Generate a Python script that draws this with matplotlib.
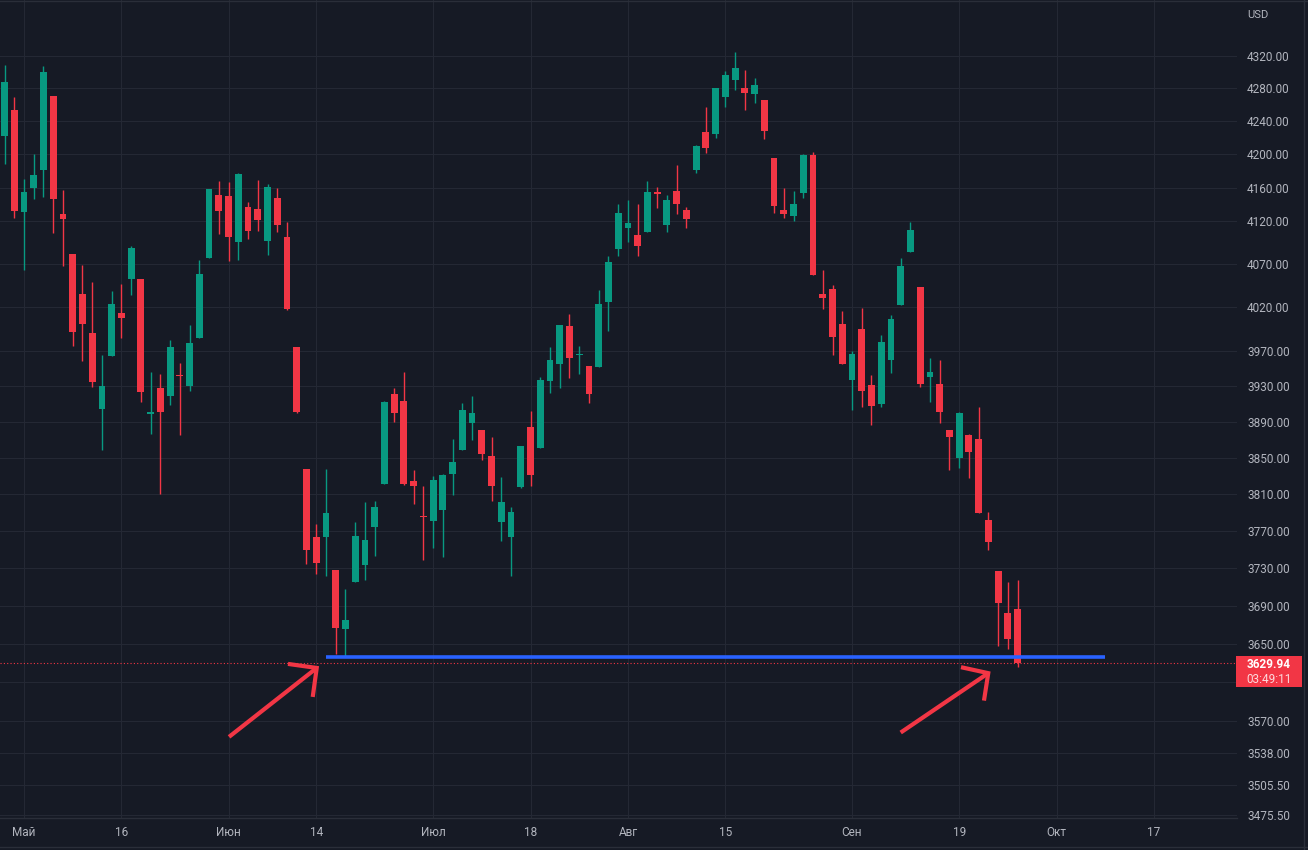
import numpy as np
import matplotlib
matplotlib.use("Agg")
import matplotlib.pyplot as plt
from matplotlib.ticker import NullLocator, NullFormatter
from matplotlib.patches import Rectangle
from matplotlib.lines import Line2D
from matplotlib.transforms import IdentityTransform

plt.rcParams['font.family'] = ['Roboto', 'DejaVu Sans']

# S&P 500 daily candles, 28 Apr - 27 Sep 2022
dates = (
    ['2022-04-28', '2022-04-29']
    + ['2022-05-%02d' % d for d in [2, 3, 4, 5, 6, 9, 10, 11, 12, 13, 16, 17, 18, 19, 20, 23, 24, 25, 26, 27, 31]]
    + ['2022-06-%02d' % d for d in [1, 2, 3, 6, 7, 8, 9, 10, 13, 14, 15, 16, 17, 21, 22, 23, 24, 27, 28, 29, 30]]
    + ['2022-07-%02d' % d for d in [1, 5, 6, 7, 8, 11, 12, 13, 14, 15, 18, 19, 20, 21, 22, 25, 26, 27, 28, 29]]
    + ['2022-08-%02d' % d for d in [1, 2, 3, 4, 5, 8, 9, 10, 11, 12, 15, 16, 17, 18, 19, 22, 23, 24, 25, 26, 29, 30, 31]]
    + ['2022-09-%02d' % d for d in [1, 2, 6, 7, 8, 9, 12, 13, 14, 15, 16, 19, 20, 21, 22, 23, 26, 27]]
)
holidays = ['2022-05-30', '2022-06-20', '2022-07-04', '2022-09-05']

opens = [4222.58, 4253.75,
         4130.61, 4159.78, 4181.18, 4270.43, 4128.17, 4081.27, 4035.18, 3990.08, 3903.95, 3963.90, 4013.02,
         4052.00, 4051.98, 3899.00, 3927.76, 3919.42, 3942.94, 3929.59, 3984.60, 4077.43, 4151.09,
         4149.78, 4095.41, 4137.57, 4134.72, 4096.47, 4147.12, 4101.65, 3974.39, 3838.15, 3763.52, 3764.05,
         3728.18, 3665.90, 3715.31, 3733.89, 3774.71, 3821.75, 3920.76, 3913.00, 3825.09, 3785.99,
         3781.00, 3792.61, 3831.98, 3858.85, 3888.26, 3880.94, 3851.95, 3779.67, 3763.99, 3818.00,
         3883.79, 3860.73, 3935.32, 3955.47, 3998.43, 3965.72, 3953.22, 3951.43, 4026.13, 4087.33,
         4112.38, 4104.21, 4107.96, 4154.85, 4115.87, 4155.93, 4133.11, 4181.02, 4227.40, 4225.02, 4269.37,
         4290.46, 4280.40, 4273.13, 4266.31, 4195.08, 4133.09, 4126.55, 4153.26, 4198.74, 4034.58, 4041.25, 4000.67,
         3936.73, 3994.66, 3930.89, 3909.43, 3959.94, 4022.94, 4083.67, 4042.83, 3940.73, 3932.41, 3880.95,
         3849.91, 3875.23, 3871.40, 3782.36, 3727.14, 3682.72, 3686.44]
highs = [4308.45, 4269.68,
         4169.81, 4200.10, 4307.66, 4270.43, 4157.69, 4081.27, 4068.82, 4049.09, 3964.80, 4038.88, 4046.46,
         4090.72, 4051.98, 3945.96, 3943.42, 3981.88, 3955.68, 3999.33, 4075.14, 4158.49, 4168.34,
         4166.54, 4177.51, 4142.67, 4168.78, 4164.86, 4160.14, 4119.10, 3974.39, 3838.15, 3778.18, 3837.56,
         3728.18, 3707.71, 3779.65, 3801.79, 3802.58, 3913.65, 3927.72, 3945.86, 3836.50, 3818.99,
         3829.82, 3832.19, 3870.91, 3910.63, 3918.50, 3880.94, 3873.41, 3829.44, 3796.41, 3863.62,
         3902.44, 3939.81, 3974.13, 3999.29, 4012.44, 3975.30, 3953.22, 4039.56, 4078.95, 4140.15,
         4144.95, 4140.47, 4167.66, 4161.29, 4151.58, 4186.62, 4137.30, 4211.03, 4257.91, 4280.47, 4301.79,
         4325.28, 4302.18, 4292.53, 4266.31, 4195.08, 4159.77, 4156.56, 4200.54, 4203.04, 4062.99, 4044.98, 4015.37,
         3970.23, 4018.43, 3942.55, 3987.89, 4010.50, 4076.81, 4119.28, 4042.83, 3961.94, 3959.14, 3880.95,
         3900.45, 3876.01, 3907.07, 3790.85, 3727.14, 3715.67, 3717.53]
lows = [4188.63, 4124.28,
        4062.51, 4147.08, 4148.91, 4106.01, 4067.91, 3975.48, 3958.17, 3928.82, 3858.87, 3963.90, 3983.99,
        4033.93, 3911.91, 3876.58, 3810.32, 3909.04, 3875.13, 3925.03, 3984.60, 4077.43, 4104.88,
        4073.85, 4074.37, 4098.67, 4109.18, 4080.19, 4107.20, 4017.17, 3900.16, 3734.30, 3724.12, 3722.30,
        3639.77, 3636.87, 3715.31, 3717.69, 3743.52, 3821.75, 3889.66, 3820.14, 3799.02, 3738.67,
        3752.10, 3742.06, 3809.37, 3858.85, 3869.34, 3847.22, 3802.36, 3759.07, 3721.56, 3817.18,
        3818.63, 3860.73, 3922.03, 3927.64, 3938.85, 3943.46, 3910.74, 3951.43, 3992.97, 4079.22,
        4096.02, 4079.81, 4107.96, 4135.42, 4107.31, 4128.97, 4112.09, 4177.26, 4201.41, 4219.78, 4256.90,
        4277.77, 4253.08, 4261.98, 4218.70, 4129.86, 4124.03, 4119.97, 4147.59, 4057.66, 4017.42, 3965.21, 3954.53,
        3903.65, 3906.21, 3886.75, 3906.03, 3944.81, 4022.94, 4083.67, 3928.79, 3912.48, 3888.28, 3837.08,
        3838.50, 3827.54, 3789.49, 3749.45, 3647.47, 3644.76, 3626.00]
closes = [4287.50, 4131.93,
          4155.38, 4175.48, 4300.17, 4146.87, 4123.34, 3991.24, 4001.05, 3935.18, 3930.08, 4023.89, 4008.01,
          4088.85, 3923.68, 3900.79, 3901.36, 3973.75, 3941.48, 3978.73, 4057.84, 4158.24, 4132.15,
          4101.23, 4176.82, 4108.54, 4121.43, 4160.68, 4115.77, 4017.82, 3900.86, 3749.63, 3735.48, 3789.99,
          3666.77, 3674.84, 3764.79, 3759.89, 3795.73, 3911.74, 3900.11, 3821.55, 3818.83, 3785.38,
          3825.33, 3831.39, 3845.08, 3902.62, 3899.38, 3854.43, 3818.80, 3801.78, 3790.38, 3863.16,
          3830.85, 3936.69, 3959.90, 3998.95, 3961.63, 3966.84, 3921.05, 4023.61, 4072.43, 4130.29,
          4118.63, 4091.19, 4155.17, 4151.94, 4145.19, 4140.06, 4122.47, 4210.24, 4207.27, 4280.15, 4297.14,
          4305.20, 4274.04, 4283.74, 4228.48, 4137.99, 4128.73, 4140.77, 4199.12, 4057.66, 4030.61, 3986.16, 3955.00,
          3966.85, 3924.26, 3908.19, 3979.87, 4006.18, 4067.36, 4110.41, 3932.69, 3946.01, 3901.35, 3873.33,
          3899.89, 3855.93, 3789.93, 3757.99, 3693.23, 3655.04, 3629.94]

tick_dates = ['2022-05-02', '2022-05-16', '2022-06-01', '2022-06-14', '2022-07-01', '2022-07-18',
              '2022-08-01', '2022-08-15', '2022-09-01', '2022-09-19', '2022-10-03', '2022-10-17']
tick_labels = ['Май', '16', 'Июн', '14', 'Июл', '18', 'Авг', '15', 'Сен', '19', 'Окт', '17']
price_ticks = [4320, 4280, 4240, 4200, 4160, 4120, 4070, 4020, 3970, 3930, 3890, 3850, 3810,
               3770, 3730, 3690, 3650, 3610, 3570, 3538, 3505.5, 3475.5]
hidden_tick = 3610  # covered by the last-price label

# support line drawn on the chart (June low)
support_level = 3636.87
support_from, support_to = '2022-06-15', '2022-10-10'
# hand drawn arrows: (bar index, price) for tail, tip, and the two head ends
arrow1 = [(21.05, 3554.1), (30.05, 3625.0), (27.1, 3629.2), (29.64, 3595.0)]
arrow2 = [(90.0, 3558.5), (98.99, 3619.6), (96.19, 3625.8), (98.55, 3591.2)]
countdown = '03:49:11'

BG = '#161a25'
GRID = '#242834'
TXT = '#b2b5be'
GREEN = '#089981'
RED = '#f23645'
BLUE = '#2962ff'

opens = np.array(opens)
highs = np.array(highs)
lows = np.array(lows)
closes = np.array(closes)
x = np.busday_count('2022-05-02', np.array(dates, dtype='datetime64[D]'), holidays=holidays)
xt = np.busday_count('2022-05-02', np.array(tick_dates, dtype='datetime64[D]'), holidays=holidays)

fig = plt.figure(figsize=(13.08, 8.5), dpi=100, facecolor=BG)
ax = fig.add_axes([0, 32 / 850, 1237 / 1308, 818 / 850])
ax.set_facecolor(BG)

up = closes >= opens
colors = np.where(up, GREEN, RED)
ax.vlines(x, lows, highs, colors=colors, lw=1.0, zorder=2)
ax.bar(x, np.abs(closes - opens), bottom=np.minimum(opens, closes), width=0.7,
       color=colors, edgecolor='none', zorder=2.1)

# support line
s0, s1 = np.busday_count('2022-05-02', [support_from, support_to], holidays=holidays)
ax.hlines(support_level, s0, s1, color=BLUE, lw=2.6, zorder=3)

# last price line
last = closes[-1]
ax.axhline(last, color=RED, lw=0.8, ls=(0, (1, 2)), zorder=1.5)

for arr in (arrow1, arrow2):
    (tx, ty), (px, py), (h1x, h1y), (h2x, h2y) = arr
    ax.plot([tx, px], [ty, py], color=RED, lw=3.0, solid_capstyle='butt', zorder=4)
    ax.plot([h1x, px, h2x], [h1y, py, h2y], color=RED, lw=3.0, solid_capstyle='butt',
            solid_joinstyle='miter', zorder=4)

ax.set_yscale('log')
ax.set_xlim(-24 / 9.741, 1213 / 9.741)
ax.set_ylim(3472.4, 4389.9)
ax.yaxis.set_minor_locator(NullLocator())
ax.yaxis.set_minor_formatter(NullFormatter())
ax.set_yticks(price_ticks, ['' if v == hidden_tick else '%.2f' % v for v in price_ticks])
ax.yaxis.tick_right()
ax.set_xticks(xt, tick_labels)
ax.tick_params(axis='y', length=0, pad=7.2, labelsize=8.5, labelcolor=TXT)
ax.tick_params(axis='x', length=0, pad=6.0, labelsize=8.5, labelcolor=TXT)
ax.grid(True, color=GRID, lw=0.8)
ax.set_axisbelow(True)
for side in ['top', 'right', 'left']:
    ax.spines[side].set_visible(False)
ax.spines['bottom'].set_color('#2a2e39')
ax.spines['bottom'].set_linewidth(1.0)

# price label box on the scale
fig.canvas.draw()
py_pix = ax.transData.transform((0, last))[1]
fig.add_artist(Rectangle((1236, py_pix - 23.7), 66, 31, facecolor=RED, edgecolor='none',
                         transform=IdentityTransform(), zorder=5))
fig.text(1269, py_pix - 1.7, '%.2f' % last, transform=IdentityTransform(), color='white',
         fontsize=8.5, fontweight='bold', ha='center', va='center', zorder=6)
fig.text(1269, py_pix - 16.7, countdown, transform=IdentityTransform(), color='#fcd9dc',
         fontsize=8.5, ha='center', va='center', zorder=6)
fig.text(1247 / 1308, 1 - 15 / 850, 'USD', color=TXT, fontsize=8, ha='left', va='center')

# thin panel borders
fig.add_artist(Line2D([1303.5, 1303.5], [0, 850], color='#2a2e39', lw=1, transform=IdentityTransform()))
fig.add_artist(Line2D([0, 1308], [849, 849], color='#2a2e39', lw=1, transform=IdentityTransform()))
fig.add_artist(Line2D([0, 1308], [3.5, 3.5], color='#2a2e39', lw=1, transform=IdentityTransform()))

fig.savefig('out.png', dpi=100, facecolor=BG)
